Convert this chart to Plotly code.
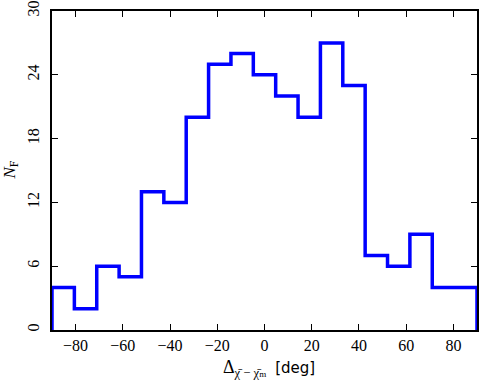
import numpy as np
import plotly.graph_objects as go

bin_edges = list(np.linspace(-90, 90, 20))
counts = [4, 2, 6, 5, 13, 12, 20, 25, 26, 24, 22, 20, 27, 23, 7, 6, 9, 4, 4]
x_ticks = [-80, -60, -40, -20, 0, 20, 40, 60, 80]
y_ticks = [0, 6, 12, 18, 24, 30]

xs = [bin_edges[0]] + bin_edges[:-1] + [bin_edges[-1], bin_edges[-1]]
ys = [0] + counts + [counts[-1], 0]

fig = go.Figure()
fig.add_trace(go.Scatter(x=xs, y=ys, mode="lines", line=dict(color="#0000ff", width=3.5, shape="hv"),
                         showlegend=False, hoverinfo="skip"))

serif = "Liberation Serif, DejaVu Serif, serif"
font = dict(family=serif, size=16, color="black")
axis_common = dict(showline=True, linecolor="black", linewidth=2, mirror="allticks",
                   ticks="inside", ticklen=6, tickwidth=1, tickcolor="black",
                   showgrid=False, zeroline=False, automargin=False)
fig.update_layout(
    width=480, height=389,
    margin=dict(l=52, r=3, t=11, b=59),
    paper_bgcolor="white", plot_bgcolor="white",
    font=font,
    xaxis=dict(range=[-90, 90], tickvals=x_ticks,
               ticktext=[("−" + str(-v)) if v < 0 else str(v) for v in x_ticks],
               **axis_common),
    yaxis=dict(range=[0, 30], tickvals=y_ticks, tickangle=-90, ticklabelstandoff=5, **axis_common),
    annotations=[
        dict(text="Δ<sub>χ̄ − χ̄<span style='font-size:9px'>m</span></sub>  <span style='font-family:DejaVu Sans;font-size:15px'>[deg]</span>",
             xref="paper", yref="paper", x=0.5, y=0, xshift=4, yshift=-25, yanchor="top",
             showarrow=False, font=dict(family=serif, size=18)),
        dict(text="<i>N</i><sub>F</sub>", xref="paper", yref="paper", x=0, y=0.5,
             xshift=-29, xanchor="right", textangle=-90, showarrow=False,
             font=dict(family=serif, size=17)),
    ],
)
fig.write_html("out.html", post_script="document.body.style.margin='0';",
               config={"displayModeBar": False})
